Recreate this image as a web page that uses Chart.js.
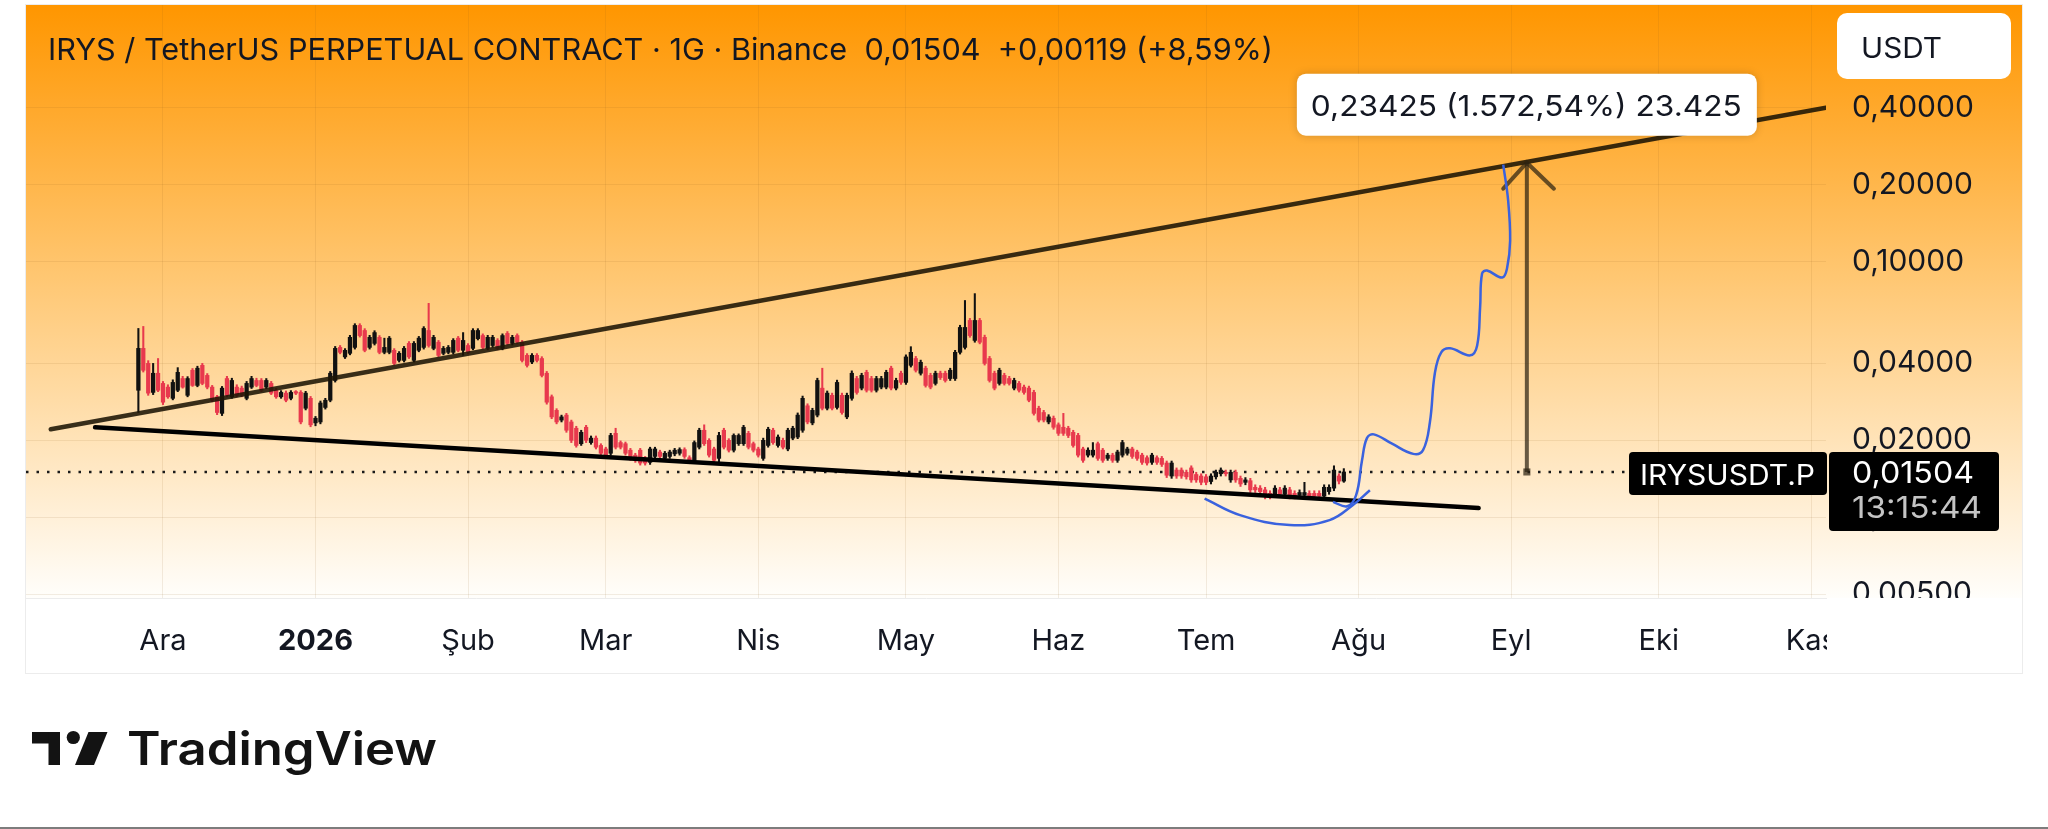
<!DOCTYPE html>
<html lang="tr">
<head>
<meta charset="UTF-8">
<title>IRYSUSDT.P</title>
<script src="https://cdn.jsdelivr.net/npm/chart.js@4.4.1/dist/chart.umd.min.js"></script>
<style>
  html, body { margin: 0; padding: 0; background: #fff; }
  #c { display: block; }
</style>
</head>
<body>
<canvas id="c" width="2048" height="829"></canvas>
<script>
// günlük mumlar, gün 0 = 1 Aralık 2025, ilk mum 26 Kasım
const firstDay = -5;
const opens = [
  0.0314,0.0458,0.0400,0.0308,0.0366,0.0334,0.0323,0.0292,0.0314,0.0349,
  0.0300,0.0376,0.0328,0.0393,0.0359,0.0323,0.0296,0.0255,0.0349,0.0296,
  0.0323,0.0320,0.0292,0.0323,0.0343,0.0343,0.0323,0.0334,0.0314,0.0296,
  0.0306,0.0292,0.0308,0.0308,0.0267,0.0292,0.0234,0.0236,0.0269,0.0287,
  0.0343,0.0462,0.0424,0.0438,0.0462,0.0563,0.0538,0.0462,0.0479,0.0506,
  0.0442,0.0442,0.0450,0.0411,0.0411,0.0479,0.0411,0.0450,0.0462,0.0538,
  0.0458,0.0484,0.0438,0.0442,0.0442,0.0502,0.0450,0.0470,0.0458,0.0500,
  0.0514,0.0458,0.0470,0.0492,0.0458,0.0524,0.0479,0.0514,0.0484,0.0430,
  0.0405,0.0430,0.0418,0.0366,0.0296,0.0262,0.0240,0.0251,0.0236,0.0223,
  0.0194,0.0225,0.0196,0.0204,0.0191,0.0185,0.0178,0.0213,0.0196,0.0194,
  0.0183,0.0175,0.0183,0.0170,0.0164,0.0173,0.0180,0.0170,0.0173,0.0177,
  0.0178,0.0184,0.0171,0.0167,0.0188,0.0219,0.0200,0.0185,0.0170,0.0219,
  0.0200,0.0183,0.0194,0.0194,0.0213,0.0194,0.0185,0.0170,0.0191,0.0219,
  0.0191,0.0200,0.0185,0.0204,0.0206,0.0219,0.0273,0.0234,0.0251,0.0320,
  0.0267,0.0300,0.0269,0.0300,0.0247,0.0292,0.0349,0.0320,0.0369,0.0349,
  0.0314,0.0323,0.0323,0.0383,0.0320,0.0366,0.0337,0.0393,0.0418,0.0366,
  0.0383,0.0359,0.0334,0.0366,0.0366,0.0349,0.0349,0.0442,0.0462,0.0589,
  0.0492,0.0589,0.0506,0.0418,0.0366,0.0334,0.0359,0.0349,0.0320,0.0334,
  0.0323,0.0320,0.0308,0.0267,0.0257,0.0236,0.0244,0.0230,0.0225,0.0223,
  0.0215,0.0209,0.0185,0.0175,0.0175,0.0194,0.0183,0.0170,0.0175,0.0167,
  0.0175,0.0178,0.0185,0.0180,0.0175,0.0171,0.0164,0.0171,0.0170,0.0163,
  0.0145,0.0153,0.0153,0.0150,0.0156,0.0147,0.0145,0.0144,0.0138,0.0144,
  0.0148,0.0150,0.0140,0.0150,0.0142,0.0137,0.0139,0.0131,0.0130,0.0128,
  0.0124,0.0123,0.0128,0.0123,0.0128,0.0124,0.0122,0.0122,0.0124,0.0124,
  0.0124,0.0121,0.0126,0.0130,0.0145,0.01385
];
const highs = [
  0.0548,0.0558,0.0410,0.0400,0.0418,0.0340,0.0330,0.0345,0.0385,0.0356,
  0.0355,0.0382,0.0390,0.0400,0.0365,0.0328,0.0300,0.0325,0.0356,0.0350,
  0.0330,0.0326,0.0340,0.0356,0.0350,0.0349,0.0349,0.0340,0.0320,0.0313,
  0.0312,0.0313,0.0313,0.0313,0.0311,0.0297,0.0248,0.0285,0.0292,0.0372,
  0.0466,0.0470,0.0457,0.0515,0.0572,0.0572,0.0547,0.0515,0.0537,0.0514,
  0.0502,0.0510,0.0457,0.0445,0.0466,0.0487,0.0487,0.0510,0.0557,0.0687,
  0.0515,0.0492,0.0466,0.0470,0.0500,0.0510,0.0528,0.0478,0.0547,0.0547,
  0.0522,0.0515,0.0515,0.0500,0.0522,0.0533,0.0515,0.0522,0.0492,0.0437,
  0.0437,0.0437,0.0425,0.0372,0.0301,0.0266,0.0251,0.0255,0.0240,0.0227,
  0.0219,0.0229,0.0208,0.0208,0.0194,0.0188,0.0213,0.0223,0.0199,0.0197,
  0.0186,0.0178,0.0186,0.0173,0.0188,0.0188,0.0183,0.0181,0.0183,0.0186,
  0.0187,0.0187,0.0174,0.0199,0.0223,0.0230,0.0203,0.0188,0.0215,0.0223,
  0.0203,0.0212,0.0212,0.0229,0.0217,0.0197,0.0188,0.0204,0.0225,0.0223,
  0.0210,0.0204,0.0223,0.0227,0.0256,0.0298,0.0278,0.0267,0.0350,0.0383,
  0.0312,0.0306,0.0344,0.0306,0.0306,0.0374,0.0356,0.0366,0.0376,0.0356,
  0.0356,0.0356,0.0376,0.0390,0.0350,0.0373,0.0432,0.0465,0.0426,0.0412,
  0.0390,0.0366,0.0373,0.0373,0.0373,0.0383,0.0450,0.0564,0.0705,0.0600,
  0.0750,0.0600,0.0516,0.0426,0.0373,0.0383,0.0366,0.0356,0.0350,0.0340,
  0.0329,0.0326,0.0314,0.0272,0.0262,0.0252,0.0249,0.0234,0.0255,0.0227,
  0.0219,0.0213,0.0188,0.0187,0.0196,0.0197,0.0186,0.0178,0.0178,0.0183,
  0.0200,0.0188,0.0188,0.0183,0.0178,0.0174,0.0178,0.0174,0.0173,0.0166,
  0.0166,0.0156,0.0156,0.0153,0.0159,0.0150,0.0148,0.0147,0.0148,0.0153,
  0.0156,0.0153,0.0153,0.0153,0.0145,0.0143,0.0142,0.0134,0.0133,0.0131,
  0.0127,0.0133,0.0131,0.0133,0.0131,0.0127,0.0128,0.0137,0.0127,0.0127,
  0.0127,0.0134,0.0134,0.0159,0.0148,0.0155
];
const lows = [
  0.0257,0.0370,0.0300,0.0302,0.0310,0.0276,0.0292,0.0288,0.0310,0.0320,
  0.0296,0.0325,0.0324,0.0330,0.0318,0.0283,0.0252,0.0250,0.0296,0.0292,
  0.0296,0.0296,0.0288,0.0319,0.0324,0.0310,0.0319,0.0302,0.0292,0.0292,
  0.0283,0.0288,0.0302,0.0232,0.0263,0.0226,0.0228,0.0232,0.0265,0.0283,
  0.0338,0.0436,0.0418,0.0432,0.0455,0.0507,0.0444,0.0455,0.0472,0.0436,
  0.0436,0.0436,0.0394,0.0405,0.0405,0.0418,0.0405,0.0444,0.0455,0.0463,
  0.0452,0.0424,0.0432,0.0436,0.0436,0.0444,0.0430,0.0436,0.0452,0.0494,
  0.0455,0.0452,0.0463,0.0452,0.0452,0.0472,0.0472,0.0477,0.0405,0.0387,
  0.0399,0.0405,0.0354,0.0277,0.0243,0.0232,0.0236,0.0215,0.0196,0.0188,
  0.0191,0.0196,0.0193,0.0185,0.0175,0.0170,0.0175,0.0185,0.0185,0.0175,
  0.0167,0.0164,0.0160,0.0160,0.0161,0.0170,0.0170,0.0167,0.0170,0.0174,
  0.0175,0.0170,0.0162,0.0164,0.0185,0.0191,0.0172,0.0164,0.0165,0.0185,
  0.0180,0.0180,0.0191,0.0191,0.0185,0.0180,0.0172,0.0167,0.0188,0.0193,
  0.0188,0.0185,0.0182,0.0201,0.0203,0.0215,0.0232,0.0230,0.0247,0.0263,
  0.0263,0.0263,0.0265,0.0253,0.0243,0.0287,0.0303,0.0315,0.0309,0.0309,
  0.0309,0.0318,0.0318,0.0315,0.0315,0.0331,0.0331,0.0387,0.0370,0.0360,
  0.0323,0.0318,0.0329,0.0346,0.0338,0.0343,0.0343,0.0435,0.0455,0.0506,
  0.0484,0.0477,0.0394,0.0338,0.0315,0.0329,0.0329,0.0329,0.0315,0.0309,
  0.0303,0.0283,0.0251,0.0236,0.0236,0.0232,0.0221,0.0209,0.0209,0.0205,
  0.0188,0.0172,0.0164,0.0172,0.0172,0.0167,0.0164,0.0167,0.0164,0.0164,
  0.0172,0.0175,0.0170,0.0167,0.0161,0.0160,0.0161,0.0161,0.0158,0.0143,
  0.0142,0.0142,0.0142,0.0141,0.0137,0.0137,0.0134,0.0134,0.0135,0.0141,
  0.0145,0.0145,0.0137,0.0137,0.0132,0.0134,0.0125,0.0125,0.0123,0.0118,
  0.0118,0.0120,0.0120,0.0120,0.0118,0.0118,0.0119,0.0119,0.0118,0.0118,
  0.0118,0.0118,0.0123,0.0127,0.0135,0.0137
];
const closes = [
  0.0458,0.0376,0.0306,0.0366,0.0314,0.0282,0.0296,0.0337,0.0369,0.0323,
  0.0349,0.0328,0.0383,0.0334,0.0323,0.0287,0.0257,0.0320,0.0300,0.0343,
  0.0300,0.0300,0.0334,0.0349,0.0328,0.0314,0.0343,0.0306,0.0296,0.0308,
  0.0287,0.0308,0.0306,0.0236,0.0306,0.0230,0.0244,0.0280,0.0287,0.0366,
  0.0458,0.0442,0.0450,0.0506,0.0563,0.0514,0.0450,0.0506,0.0528,0.0442,
  0.0462,0.0502,0.0400,0.0438,0.0458,0.0424,0.0479,0.0502,0.0548,0.0470,
  0.0506,0.0430,0.0458,0.0462,0.0492,0.0450,0.0492,0.0442,0.0538,0.0538,
  0.0462,0.0506,0.0506,0.0458,0.0514,0.0479,0.0506,0.0484,0.0411,0.0393,
  0.0430,0.0411,0.0359,0.0282,0.0247,0.0236,0.0247,0.0219,0.0200,0.0191,
  0.0215,0.0200,0.0204,0.0188,0.0178,0.0173,0.0209,0.0188,0.0188,0.0178,
  0.0170,0.0167,0.0163,0.0163,0.0185,0.0185,0.0173,0.0178,0.0180,0.0183,
  0.0184,0.0173,0.0165,0.0196,0.0219,0.0194,0.0175,0.0167,0.0209,0.0188,
  0.0183,0.0209,0.0209,0.0225,0.0188,0.0183,0.0175,0.0200,0.0221,0.0196,
  0.0206,0.0188,0.0219,0.0223,0.0251,0.0292,0.0236,0.0262,0.0343,0.0267,
  0.0306,0.0267,0.0337,0.0257,0.0300,0.0366,0.0308,0.0359,0.0314,0.0314,
  0.0349,0.0349,0.0369,0.0320,0.0343,0.0337,0.0424,0.0442,0.0376,0.0404,
  0.0328,0.0323,0.0366,0.0352,0.0343,0.0376,0.0442,0.0553,0.0553,0.0514,
  0.0589,0.0484,0.0400,0.0343,0.0320,0.0376,0.0334,0.0334,0.0343,0.0314,
  0.0308,0.0287,0.0255,0.0240,0.0240,0.0247,0.0225,0.0213,0.0213,0.0209,
  0.0191,0.0175,0.0167,0.0183,0.0183,0.0170,0.0167,0.0175,0.0167,0.0180,
  0.0196,0.0185,0.0173,0.0170,0.0164,0.0163,0.0175,0.0164,0.0161,0.0146,
  0.0163,0.0145,0.0145,0.0144,0.0140,0.0140,0.0137,0.0137,0.0145,0.0150,
  0.0153,0.0148,0.0150,0.0140,0.0135,0.0140,0.0128,0.0128,0.0126,0.0121,
  0.0121,0.0130,0.0123,0.0130,0.0121,0.0121,0.0125,0.0125,0.0121,0.0121,
  0.0121,0.0131,0.0131,0.0153,0.01385,0.01504
];

const monthDays = [0, 31, 62, 90, 121, 151, 182, 212, 243, 274, 304, 335];
const monthNames = ['Ara', '2026', 'Şub', 'Mar', 'Nis', 'May', 'Haz', 'Tem', 'Ağu', 'Eyl', 'Eki', 'Kas'];
const priceTicks = [0.005, 0.01, 0.02, 0.04, 0.1, 0.2, 0.4];

// çizimler: [gün, fiyat]
const upperTrend = [[-22.8, 0.0221], [338, 0.4]];
const lowerTrend = [[-13.8, 0.0225], [267.4, 0.01086]];
const arrowShaft = [[277.2, 0.01504], [277.2, 0.2439]];
const arrowHead = [[272.4, 0.193], [277.2, 0.2439], [282.7, 0.193]];
const blueCup = [[211.7, 0.01184], [218.9, 0.0102], [229.0, 0.00932], [237.1, 0.00975], [241.8, 0.01115], [245.3, 0.01276]];
const blueRise = [
  [237.8, 0.01149], [240.7, 0.01104], [242.5, 0.0122], [243.7, 0.0167], [244.7, 0.0204], [246.1, 0.0211],
  [249.8, 0.0194], [254.1, 0.0177], [256.1, 0.0183], [257.5, 0.0236], [258.5, 0.0366], [259.8, 0.0442],
  [261.6, 0.0458], [265.7, 0.0430], [267.1, 0.0470], [267.7, 0.0662], [268.1, 0.0899], [269.1, 0.0923],
  [272.2, 0.0867], [273.2, 0.0948], [273.8, 0.1209], [273.4, 0.1733], [272.4, 0.2396]
];

const lastPrice = 0.01504;
const headerText = 'IRYS / TetherUS PERPETUAL CONTRACT · 1G · Binance  0,01504  +0,00119 (+8,59%)';
const targetText = '0,23425 (1.572,54%) 23.425';
const symbolText = 'IRYSUSDT.P';
const priceText = '0,01504';
const timerText = '13:15:44';

const xMin = -27.84, xMax = 338;
const upColor = '#111111', downColor = '#e8394d';

const pts = arr => arr.map(([x, y]) => ({ x, y }));

// yazıyı verilen genişliğe sığdır
function fitText(ctx, text, x, y, w) {
  const m = ctx.measureText(text).width;
  ctx.save();
  ctx.translate(x, y);
  ctx.scale(w / m, 1);
  ctx.textAlign = 'left';
  ctx.fillText(text, 0, 0);
  ctx.restore();
}

function box(ctx, x, y, w, h, r, color) {
  ctx.beginPath();
  ctx.moveTo(x + r, y);
  ctx.arcTo(x + w, y, x + w, y + h, r);
  ctx.arcTo(x + w, y + h, x, y + h, r);
  ctx.arcTo(x, y + h, x, y, r);
  ctx.arcTo(x, y, x + w, y, r);
  ctx.closePath();
  ctx.fillStyle = color;
  ctx.fill();
}

const background = {
  id: 'background',
  beforeDraw(chart) {
    const { ctx, chartArea: a, scales } = chart;
    const right = scales.y.right;
    ctx.save();
    ctx.fillStyle = '#ffffff';
    ctx.fillRect(0, 0, chart.width, chart.height);
    const g = ctx.createLinearGradient(0, a.top, 0, a.bottom);
    g.addColorStop(0, '#ff9600');
    g.addColorStop(0.45, '#ffc670');
    g.addColorStop(1, '#fffefb');
    ctx.fillStyle = g;
    ctx.fillRect(a.left, a.top, right - a.left, a.bottom - a.top);
    ctx.restore();
  }
};

const decor = {
  id: 'decor',
  afterDraw(chart) {
    const { ctx, chartArea: a, scales: { x, y } } = chart;
    const right = y.right, bottom = x.bottom;
    ctx.save();
    // fiyat ekseni altındaki taşmayı kapat
    ctx.fillStyle = '#ffffff';
    ctx.fillRect(a.right + 1, a.bottom, right - a.right, bottom - a.bottom);
    ctx.strokeStyle = '#ececec';
    ctx.lineWidth = 1;
    ctx.strokeRect(a.left - 0.5, a.top - 0.5, right - a.left + 1, bottom - a.top + 1);

    ctx.fillStyle = '#131722';
    ctx.textBaseline = 'alphabetic';
    ctx.font = '400 30px Inter';
    fitText(ctx, headerText, 48, 60, 1225);

    // USDT
    box(ctx, 1837, 13, 174, 66, 10, '#ffffff');
    ctx.fillStyle = '#131722';
    ctx.font = '400 28px Inter';
    fitText(ctx, 'USDT', 1861, 58, 81);

    // hedef etiketi
    const ax = x.getPixelForValue(arrowShaft[1][0]);
    const ay = y.getPixelForValue(arrowShaft[1][1]);
    ctx.save();
    ctx.shadowColor = 'rgba(0,0,0,0.18)';
    ctx.shadowBlur = 8;
    box(ctx, ax - 230, ay - 89, 460, 62, 9, '#ffffff');
    ctx.restore();
    ctx.fillStyle = '#131722';
    ctx.font = '400 29px Inter';
    fitText(ctx, targetText, ax - 216, ay - 47, 431);

    // son fiyat etiketleri
    const py = y.getPixelForValue(lastPrice);
    box(ctx, a.right - 197, py - 20, 198, 43, 4, '#000000');
    box(ctx, a.right + 3, py - 20, 170, 79, 4, '#000000');
    ctx.fillStyle = '#ffffff';
    ctx.font = '400 28px Inter';
    fitText(ctx, symbolText, a.right - 186, py + 13, 175);
    ctx.font = '400 30px Inter';
    fitText(ctx, priceText, a.right + 26, py + 11, 122);
    ctx.fillStyle = '#c4c4c4';
    fitText(ctx, timerText, a.right + 26, py + 46, 130);

    // TradingView logosu
    ctx.fillStyle = '#131313';
    ctx.fillRect(32, 732, 28, 11.5);
    ctx.fillRect(48.5, 732, 11.5, 33);
    ctx.beginPath();
    ctx.arc(73.3, 737.5, 6.6, 0, Math.PI * 2);
    ctx.fill();
    ctx.beginPath();
    ctx.moveTo(88.5, 732); ctx.lineTo(107.5, 732); ctx.lineTo(94, 765); ctx.lineTo(75, 765);
    ctx.closePath();
    ctx.fill();
    ctx.font = '600 46px Inter';
    fitText(ctx, 'TradingView', 127, 765, 310);

    ctx.fillStyle = '#7d7d7d';
    ctx.fillRect(0, 827, chart.width, 2);
    ctx.restore();
  }
};

const candleIdx = opens.map((_, i) => i);
const candleColors = candleIdx.map(i => closes[i] >= opens[i] ? upColor : downColor);

const chart = new Chart(document.getElementById('c'), {
  type: 'bar',
  data: {
    datasets: [
      {
        type: 'line', order: 10,
        data: pts([[xMin, lastPrice], [xMax, lastPrice]]),
        borderColor: '#1a1a1a', borderWidth: 2.5, borderDash: [2.5, 8], pointRadius: 0
      },
      {
        order: 9, grouped: false, barThickness: 1.4,
        data: candleIdx.map(i => ({ x: firstDay + i, y: [lows[i], highs[i]] })),
        backgroundColor: candleColors
      },
      {
        order: 8, grouped: false, barThickness: 3.6, minBarLength: 1.5,
        data: candleIdx.map(i => ({ x: firstDay + i, y: [opens[i], closes[i]] })),
        backgroundColor: candleColors
      },
      {
        type: 'line', order: 5, data: pts(lowerTrend),
        borderColor: '#000000', borderWidth: 4.5, borderCapStyle: 'round', pointRadius: 0
      },
      {
        type: 'line', order: 5, data: pts(upperTrend),
        borderColor: 'rgba(28,20,4,0.88)', borderWidth: 4.5, borderCapStyle: 'round', pointRadius: 0
      },
      {
        type: 'line', order: 4, data: pts(arrowShaft),
        borderColor: 'rgba(45,35,18,0.72)', borderWidth: 4, pointRadius: [5, 0],
        pointStyle: 'rect', pointBackgroundColor: 'rgba(45,35,18,0.72)', pointBorderWidth: 0
      },
      {
        type: 'line', order: 4, data: pts(arrowHead),
        borderColor: 'rgba(45,35,18,0.72)', borderWidth: 4, borderCapStyle: 'round', borderJoinStyle: 'miter', pointRadius: 0
      },
      {
        type: 'line', order: 3, data: pts(blueCup),
        borderColor: '#3a62de', borderWidth: 2.5, tension: 0.4, pointRadius: 0
      },
      {
        type: 'line', order: 3, data: pts(blueRise),
        borderColor: '#3a62de', borderWidth: 2.5, tension: 0.4, pointRadius: 0
      }
    ]
  },
  options: {
    responsive: false,
    animation: false,
    devicePixelRatio: 1,
    layout: { padding: { left: 26, right: 26, top: 4, bottom: 156 } },
    plugins: { legend: { display: false }, tooltip: { enabled: false } },
    scales: {
      x: {
        type: 'linear', min: xMin, max: xMax, offset: false,
        afterBuildTicks: s => { s.ticks = monthDays.map(v => ({ value: v })); },
        afterFit: s => { s.height = 75; s.paddingLeft = 0; s.paddingRight = 0; },
        grid: { color: 'rgba(140,95,30,0.11)', drawTicks: false, offset: false },
        border: { display: true, color: '#ececec' },
        ticks: {
          autoSkip: false, maxRotation: 0, padding: 26, color: '#131722',
          callback: (v, i) => monthNames[i],
          font: c => ({ family: 'Inter', size: 29, weight: monthNames[c.index] === '2026' ? '700' : '400' })
        }
      },
      y: {
        type: 'logarithmic', position: 'right', min: 0.004832, max: 1.01,
        afterBuildTicks: s => { s.ticks = priceTicks.map(v => ({ value: v })); },
        afterFit: s => { s.width = 196; s.paddingTop = 0; s.paddingBottom = 0; },
        grid: { color: 'rgba(140,95,30,0.11)', drawTicks: false },
        border: { display: false },
        ticks: {
          padding: 26, color: '#131722', font: { family: 'Inter', size: 30 },
          callback: v => v.toFixed(5).replace('.', ',')
        }
      }
    }
  },
  plugins: [background, decor]
});

Promise.all([
  document.fonts.load('400 30px Inter'),
  document.fonts.load('700 29px Inter'),
  document.fonts.load('600 46px Inter')
]).then(() => chart.update()).catch(() => {});
</script>
</body>
</html>
